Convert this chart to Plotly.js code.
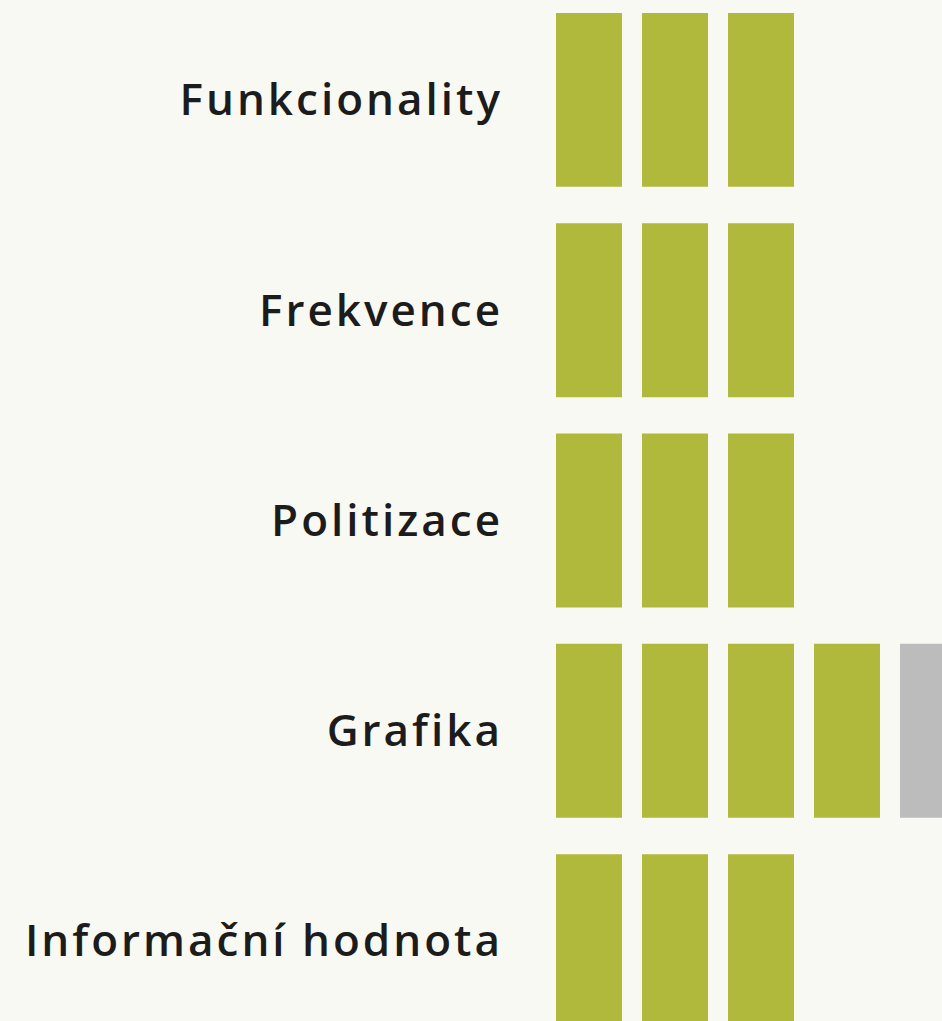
<!DOCTYPE html>
<html>
<head>
<meta charset="utf-8">
<script src="https://cdn.plot.ly/plotly-3.0.1.min.js"></script>
<style>
  html, body { margin: 0; padding: 0; background: #f9f9f4; }
  #chart { width: 942px; height: 1021px; }
  .ytick text { letter-spacing: 3px; }
</style>
</head>
<body>
<div id="chart"></div>
<script>
const categories = ["Funkcionality", "Frekvence", "Politizace", "Grafika", "Informační hodnota"];
const greenBlocks = [3, 3, 3, 4, 3];
const greyBlocks = [0, 0, 0, 1, 0];
const maxBlocks = 5;

const GREEN = "#b0b93c";
const GREY = "#bcbcbc";
const BG = "#f9f9f4";

const traces = [];
for (let k = 0; k < maxBlocks; k++) {
  traces.push({
    type: "bar",
    orientation: "h",
    y: categories,
    x: categories.map((c, i) => (k < greenBlocks[i] + greyBlocks[i] ? 1 : null)),
    base: categories.map(() => k),
    marker: {
      color: categories.map((c, i) => (k < greenBlocks[i] ? GREEN : GREY)),
      line: { color: BG, width: 20 }
    },
    hoverinfo: "skip",
    showlegend: false
  });
}

const layout = {
  width: 942,
  height: 1021,
  margin: { l: 546, r: 0, t: 0, b: 0, pad: 0 },
  paper_bgcolor: BG,
  plot_bgcolor: BG,
  barmode: "overlay",
  bargap: 0.078,
  showlegend: false,
  xaxis: {
    visible: false,
    range: [0, 396 / 86],
    fixedrange: true
  },
  yaxis: {
    type: "category",
    categoryorder: "array",
    categoryarray: categories,
    range: [4.38, -0.475],
    showgrid: false,
    zeroline: false,
    showline: false,
    ticks: "",
    ticklen: 0,
    ticklabelstandoff: 42,
    automargin: false,
    tickfont: { family: "Open Sans", size: 44, color: "#1c1c1c", weight: 600 },
    fixedrange: true
  }
};

Plotly.newPlot("chart", traces, layout, { displayModeBar: false, staticPlot: true });
</script>
</body>
</html>
